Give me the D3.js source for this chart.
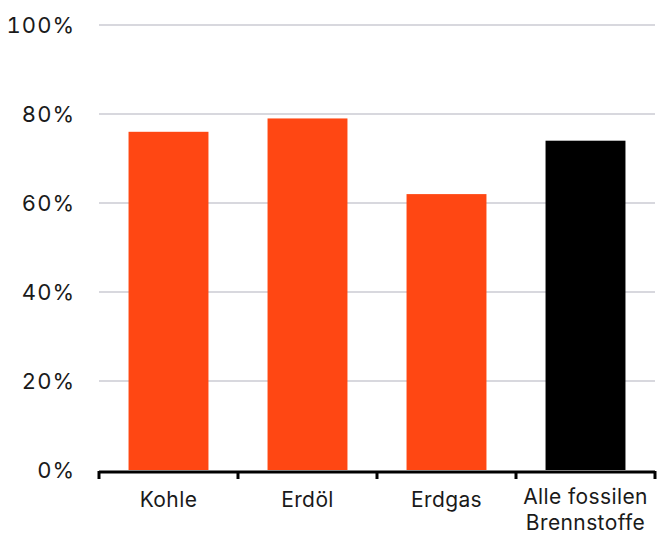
<!DOCTYPE html>
<html><head><meta charset="utf-8">
<script src="https://cdn.jsdelivr.net/npm/d3@7"></script>
<style>body{margin:0;background:#fff}svg{display:block}text{font-family:Inter,"Noto Sans",sans-serif;fill:#1a1a1a}</style>
</head><body>
<script>
const categories = ["Kohle", "Erdöl", "Erdgas", "Alle fossilen\nBrennstoffe"];
const values = [76, 79, 62, 74];
const barColors = ["#ff4713", "#ff4713", "#ff4713", "#000000"];
const yTicks = [0, 20, 40, 60, 80, 100];

const W = 666, H = 535;
const svg = d3.select("body").append("svg").attr("width", W).attr("height", H);
const x = d3.scaleBand().domain(categories).range([99, 655]).padding(0);
const y = d3.scaleLinear().domain([0, 100]).range([470, 25]);

// gridlines
svg.append("g").selectAll("line").data(yTicks.filter(d => d > 0)).join("line")
  .attr("x1", 99).attr("x2", 655)
  .attr("y1", d => y(d)).attr("y2", d => y(d))
  .attr("stroke", "#d8d8de").attr("stroke-width", 2);

// y labels
svg.append("g").selectAll("text").data(yTicks).join("text")
  .attr("x", 75).attr("y", d => y(d) + 8)
  .attr("text-anchor", "end").attr("font-size", 22)
  .style("font-variant-numeric", "tabular-nums")
  .style("letter-spacing", "1px")
  .text(d => d + "%");

// bars
const bw = x.bandwidth() * 0.575;
svg.append("g").selectAll("rect").data(values).join("rect")
  .attr("x", (d, i) => x(categories[i]) + (x.bandwidth() - bw) / 2)
  .attr("width", bw)
  .attr("y", d => y(d))
  .attr("height", d => y(0) - y(d))
  .attr("fill", (d, i) => barColors[i]);

// x axis
const tickXs = categories.map(c => x(c)).concat([x.range()[1]]);
svg.append("line").attr("x1", 99).attr("x2", 655).attr("y1", 472).attr("y2", 472)
  .attr("stroke", "#000").attr("stroke-width", 3);
svg.append("g").selectAll("line").data(tickXs).join("line")
  .attr("x1", d => d).attr("x2", d => d).attr("y1", 471).attr("y2", 479)
  .attr("stroke", "#000").attr("stroke-width", 3);

// x labels
svg.append("g").selectAll("text").data(categories).join("text")
  .attr("text-anchor", "middle").attr("font-size", 21)
  .style("letter-spacing", "0.4px")
  .attr("transform", d => {
    const lines = d.split("\n").length;
    return `translate(${x(d) + x.bandwidth() / 2},${lines > 1 ? 504 : 507})`;
  })
  .each(function(d) {
    d.split("\n").forEach((t, i) => {
      d3.select(this).append("tspan").attr("x", 0).attr("dy", i === 0 ? 0 : 26).text(t);
    });
  });
</script>
</body></html>
